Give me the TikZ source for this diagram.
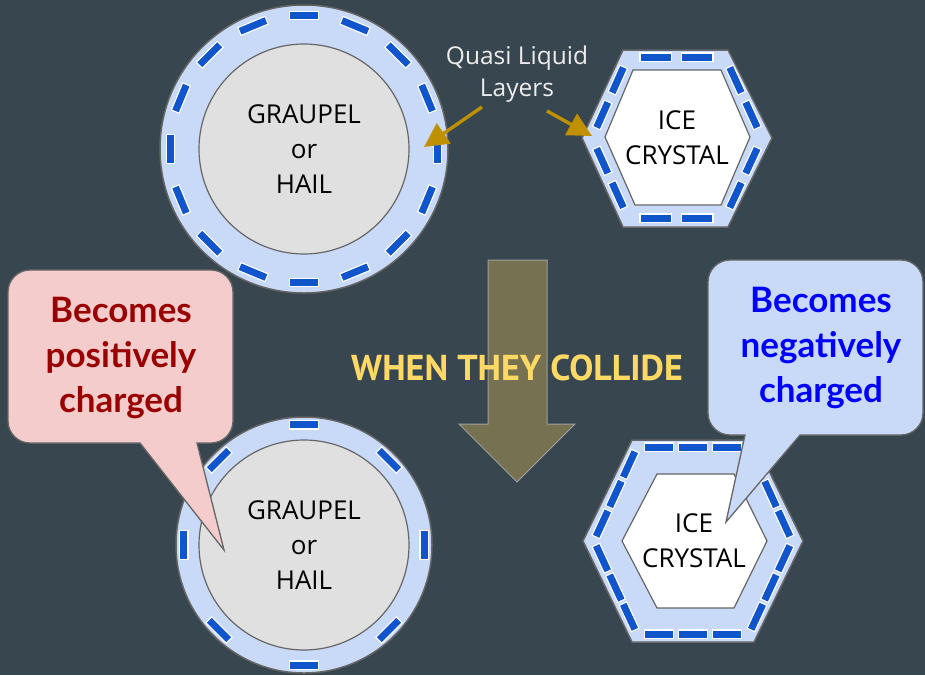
\documentclass[tikz,border=0pt]{standalone}
\usepackage{fontspec}
\setmainfont{Open Sans}
\newfontfamily\ptsansfont{PT Sans}
\newfontfamily\calloutfont{Lato}
\usetikzlibrary{arrows.meta,calc}
\definecolor{bgc}{HTML}{37464F}
\definecolor{ringc}{HTML}{C9DAF8}
\definecolor{graupelc}{HTML}{E0E0E0}
\definecolor{dashc}{HTML}{1155CC}
\definecolor{edgec}{HTML}{666666}
\definecolor{goldc}{HTML}{BF9000}
\definecolor{olivec}{HTML}{767150}
\definecolor{yellowc}{HTML}{FFD966}
\definecolor{pinkc}{HTML}{F4CCCC}
\definecolor{redtxt}{HTML}{990000}
\definecolor{bluetxt}{HTML}{0000FF}
\tikzset{
  ringshape/.style={fill=ringc, draw=edgec, line width=1.5},
  coreshape/.style={fill=graupelc, draw=edgec, line width=1.2},
  iceshape/.style={fill=white, draw=edgec, line width=1.2},
  qwhite/.style={draw=white, line width=9.5, shorten <=-1.2, shorten >=-1.2},
  qblue/.style={draw=dashc, line width=7},
  objlabel/.style={align=center, text=black, font=\fontsize{26}{35}\selectfont},
  calloutbox/.style={draw=edgec, line width=1.3},
  callouttext/.style={align=center, font=\calloutfont\bfseries\fontsize{35}{45}\selectfont},
  goldarrow/.style={draw=goldc, line width=3.4, -{Triangle[length=24,width=24]}},
}
\newcommand{\qdashseg}[2]{\draw[qwhite] #1 -- #2; \draw[qblue] #1 -- #2;}
\begin{document}
\begin{tikzpicture}[x=1pt,y=-1pt]
\fill[bgc] (0,0) rectangle (925,675);
\useasboundingbox (0,0) rectangle (925,675);

% ---- top graupel
\begin{scope}[shift={(304,149)}]
  \fill[ringshape] (0,0) circle (144);
  \foreach \a in {0,22.5,...,337.5}{
    \qdashseg{(\a-6:134)}{(\a+6:134)}
  }
  \draw[coreshape] (0,0) circle (105);
\end{scope}
\node[objlabel] (g1) at (304,149) {GRAUPEL\\or\\HAIL};

% ---- top ice crystal
\fill[ringshape] (582,138) -- (623,50) -- (728,50) -- (772,138) -- (728,227) -- (623,227) -- cycle;
\coordinate (aL) at (592,138);
\coordinate (aTL) at (628,57);
\coordinate (aTR) at (725,57);
\coordinate (aR) at (762,138);
\coordinate (aBR) at (725,218);
\coordinate (aBL) at (628,218);
\foreach \A/\B in {aL/aTL, aTL/aTR, aTR/aR, aR/aBR, aBR/aBL, aBL/aL}{
  \qdashseg{($(\A)!0.13!(\B)$)}{($(\A)!0.44!(\B)$)}
  \qdashseg{($(\A)!0.56!(\B)$)}{($(\A)!0.87!(\B)$)}
}
\draw[iceshape] (605,137) -- (633,70) -- (721,70) -- (750,137) -- (721,205) -- (635,205) -- cycle;
\node[objlabel] (c1) at (677,138) {ICE\\CRYSTAL};

% ---- quasi liquid layers label and arrows
\node[align=center, text=white!93!black, font=\fontsize{24.5}{32}\selectfont] (qll) at (517,74) {Quasi Liquid\\Layers};
\coordinate (qa1) at (482,107);
\coordinate (qt1) at (424,147);
\coordinate (qa2) at (547,111);
\coordinate (qt2) at (592,136);
\draw[goldarrow] (qa1) -- (qt1);
\draw[goldarrow] (qa2) -- (qt2);

% ---- big down arrow and text
\draw[fill=olivec, draw=gray!75, line width=1] (488,260) -- (547,260) -- (547,424) -- (575,424) -- (517,482) -- (459,424) -- (488,424) -- cycle;
\node[text=yellowc, font=\ptsansfont\bfseries\fontsize{36}{40}\selectfont] (wtc) at (517,368) {WHEN THEY COLLIDE};

% ---- bottom graupel
\begin{scope}[shift={(304,545)}]
  \fill[ringshape] (0,0) circle (128);
  \foreach \a in {0,45,...,315}{
    \qdashseg{(\a-6.5:121)}{(\a+6.5:121)}
  }
  \draw[coreshape] (0,0) circle (105);
\end{scope}
\node[objlabel] (g2) at (304,545) {GRAUPEL\\or\\HAIL};

% ---- bottom ice crystal
\fill[ringshape] (583,541) -- (632,440) -- (754,440) -- (803,541) -- (754,642) -- (632,642) -- cycle;
\coordinate (bL) at (594,541);
\coordinate (bTL) at (637,447);
\coordinate (bTR) at (749,447);
\coordinate (bR) at (792,541);
\coordinate (bBR) at (749,634);
\coordinate (bBL) at (637,634);
\foreach \A/\B in {bL/bTL, bTR/bR, bR/bBR, bBL/bL}{
  \qdashseg{($(\A)!0.05!(\B)$)}{($(\A)!0.32!(\B)$)}
  \qdashseg{($(\A)!0.365!(\B)$)}{($(\A)!0.635!(\B)$)}
  \qdashseg{($(\A)!0.68!(\B)$)}{($(\A)!0.95!(\B)$)}
}
\foreach \A/\B in {bTL/bTR, bBR/bBL}{
  \qdashseg{($(\A)!0.07!(\B)$)}{($(\A)!0.32!(\B)$)}
  \qdashseg{($(\A)!0.375!(\B)$)}{($(\A)!0.625!(\B)$)}
  \qdashseg{($(\A)!0.68!(\B)$)}{($(\A)!0.93!(\B)$)}
}
\draw[iceshape] (622,541) -- (657,474) -- (734,474) -- (767,541) -- (734,608) -- (657,608) -- cycle;
\node[objlabel] (c2) at (694,541) {ICE\\CRYSTAL};

% ---- left callout (pink)
\draw[calloutbox, fill=pinkc] (120,270) -- (211,270) arc[start angle=-90, end angle=0, radius=22]
  -- (233,421) arc[start angle=0, end angle=90, radius=22]
  -- (197,443) -- (224,550) -- (140,443)
  -- (30,443) arc[start angle=90, end angle=180, radius=22]
  -- (8,292) arc[start angle=180, end angle=270, radius=22] -- cycle;
\node[callouttext, text=redtxt] (pos) at (121,358) {Becomes\\positively\\charged};

% ---- right callout (blue)
\draw[calloutbox, fill=ringc] (815,260) -- (901,260) arc[start angle=-90, end angle=0, radius=22]
  -- (923,413) arc[start angle=0, end angle=90, radius=22]
  -- (800,435) -- (726,522) -- (745,435)
  -- (730,435) arc[start angle=90, end angle=180, radius=22]
  -- (708,282) arc[start angle=180, end angle=270, radius=22] -- cycle;
\node[callouttext, text=bluetxt] (neg) at (821,348) {Becomes\\negatively\\charged};
\end{tikzpicture}
\end{document}
